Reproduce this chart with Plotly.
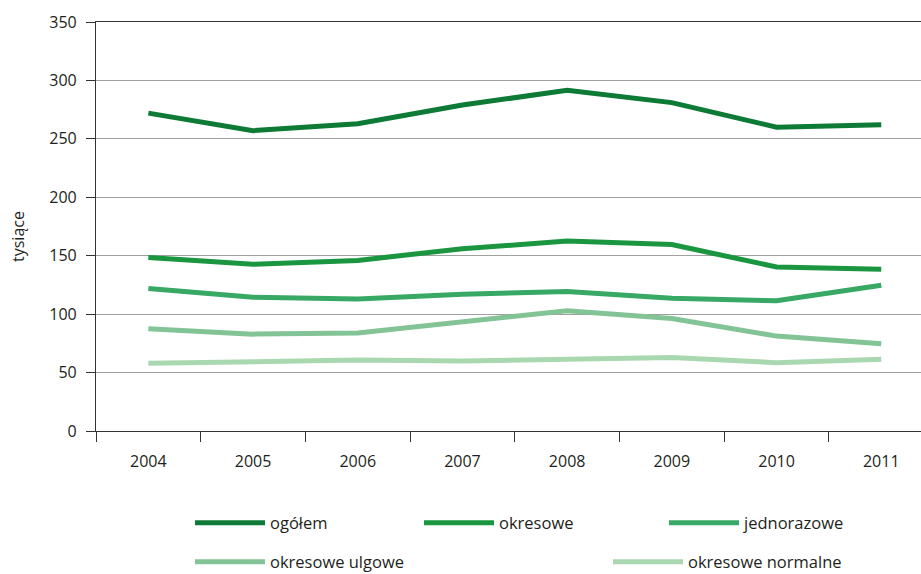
import plotly.graph_objects as go

years = ["2004", "2005", "2006", "2007", "2008", "2009", "2010", "2011"]
ogolem = [272, 257, 263, 279, 291.5, 281, 260, 262]
okresowe = [148.5, 142.7, 146, 156, 162.5, 159.5, 140.4, 138.5]
jednorazowe = [122, 114.5, 113, 117, 119.4, 113.7, 111.4, 124.8]
okresowe_ulgowe = [87.4, 82.9, 83.8, 92.9, 103, 96.3, 81.2, 74.6]
okresowe_normalne = [57.9, 59, 60.7, 59.8, 61.8, 63, 58.4, 61.3]

names = ["ogółem", "okresowe", "jednorazowe", "okresowe ulgowe", "okresowe normalne"]
series = [ogolem, okresowe, jednorazowe, okresowe_ulgowe, okresowe_normalne]
colors = ["#0d7a35", "#1b9640", "#38a865", "#82c495", "#a9d8b0"]

FONT = "Open Sans"
TXT = "#231f20"

W, H = 921, 574
L, R, T, B = 96, 0, 22, 143
pw = W - L - R
ph = H - T - B

# legend anchor positions in pixels (left of sample line, vertical centre)
leg_pos = [(190, 523), (419, 523), (664, 523), (190, 562), (608, 562)]
legend_keys = ["legend", "legend2", "legend3", "legend4", "legend5"]

fig = go.Figure()
for i, (nm, ys, c) in enumerate(zip(names, series, colors)):
    fig.add_trace(go.Scatter(
        x=years, y=ys, mode="lines", name=nm,
        line=dict(color=c, width=5),
        legend=legend_keys[i],
    ))

layout_legends = {}
for key, (xp, yp) in zip(legend_keys, leg_pos):
    layout_legends[key] = dict(
        x=xp / W, y=1 - yp / H, xanchor="left", yanchor="middle",
        xref="container", yref="container",
        bgcolor="rgba(0,0,0,0)", borderwidth=0,
        font=dict(family=FONT, size=16.5, color=TXT),
        itemwidth=70, tracegroupgap=0,
    )

fig.update_layout(
    width=W, height=H,
    margin=dict(l=L, r=R, t=T, b=B, pad=0, autoexpand=False),
    paper_bgcolor="white", plot_bgcolor="white",
    font=dict(family=FONT, size=16, color=TXT),
    showlegend=True,
    annotations=[dict(
        text="tysiące", textangle=-90,
        x=(18 - L) / pw, y=(H - B - 237) / ph, xref="paper", yref="paper",
        xanchor="center", yanchor="middle", showarrow=False,
        font=dict(family=FONT, size=16, color=TXT),
    )],
    **layout_legends,
)

fig.update_xaxes(
    type="category",
    range=[-0.5, -0.5 + pw / 104.7],
    tickson="boundaries",
    ticks="outside", ticklen=10, tickcolor="#333333", tickwidth=1.2,
    showline=True, linecolor="#333333", linewidth=1.2, mirror=True,
    showgrid=False, zeroline=False,
    ticklabelstandoff=16,
    tickfont=dict(family=FONT, size=16, color=TXT),
    fixedrange=True,
)

fig.update_yaxes(
    range=[0, 350], dtick=50,
    ticks="outside", ticklen=9, tickcolor="#333333", tickwidth=1.2,
    showline=True, linecolor="#333333", linewidth=1.2,
    showgrid=True, gridcolor="#a0a0a0", gridwidth=1.3,
    zeroline=False,
    ticklabelstandoff=6,
    tickfont=dict(family=FONT, size=16, color=TXT),
    fixedrange=True,
)

fig.write_html("out.html")
